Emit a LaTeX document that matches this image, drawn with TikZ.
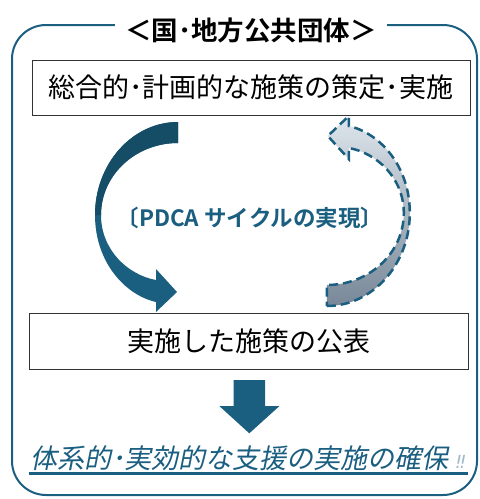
\documentclass[tikz,border=0pt]{standalone}
\usepackage{fontspec}
\setmainfont{Noto Sans CJK JP}
\newfontfamily\jpbold{Noto Sans CJK JP Bold}
\newfontfamily\jpit[FakeSlant=0.2]{Noto Sans CJK JP}
\newfontfamily\dejavu[FakeSlant=0.2]{DejaVu Sans}
\definecolor{pblue}{RGB}{26,94,128}
\definecolor{pdark}{RGB}{21,76,102}
\definecolor{plight}{RGB}{222,229,236}
\definecolor{pgrey}{RGB}{120,136,152}
\definecolor{pfaint}{RGB}{160,185,200}
\tikzset{
  framebox/.style={draw=pblue, line width=2pt, rounded corners=34pt},
  textbox/.style={draw=black!80, line width=1pt, fill=white, inner sep=0pt},
  bigarrow/.style={fill=pblue, draw=none},
}
\begin{document}
\begin{tikzpicture}[x=1pt,y=-1pt]
\useasboundingbox (0,0) rectangle (480,499);
% outer frame
\draw[framebox] (12,25) rectangle (477,495);
\node[fill=white, inner xsep=10pt, inner ysep=2pt, font=\jpbold\fontsize{26.5}{26.5}\selectfont] (title) at (251,30) {＜国･地方公共団体＞};
% boxes
\node[textbox, minimum width=438pt, minimum height=55pt, font=\fontsize{27}{27}\selectfont] (plan) at (251,87.5) {総合的･計画的な施策の策定･実施};
\node[textbox, minimum width=439pt, minimum height=56pt, font=\fontsize{27}{27}\selectfont] (pub) at (249,341) {実施した施策の公表};
% left curved arrow
\fill[pblue] (178,122) .. controls (132,122) and (95,164) .. (95,215)
  .. controls (95,262) and (125,295) .. (156,302)
  -- (156,312) -- (177,292) -- (156,269) -- (156,280)
  .. controls (128,275) and (101,250) .. (101,215)
  .. controls (101,175) and (135.5,143) .. (178,143) -- cycle;
\fill[pdark] (178,122) .. controls (132,122) and (95,164) .. (95,215)
  -- (101,215) .. controls (101,175) and (135.5,143) .. (178,143) -- cycle;
% right curved arrow (dashed)
\draw[draw=pblue, line width=2.5pt, dash pattern=on 9pt off 5pt, top color=plight, bottom color=pgrey]
  (326.8,306) .. controls (372.8,306) and (409.8,264) .. (409.8,213)
  .. controls (409.8,166) and (379.8,133) .. (348.8,126)
  -- (348.8,116) -- (327.8,136) -- (348.8,159) -- (348.8,148)
  .. controls (376.8,153) and (403.8,178) .. (403.8,213)
  .. controls (403.8,253) and (369.3,285) .. (326.8,285) -- cycle;
% center label
\node[text=pblue, font=\jpbold\fontsize{22.5}{22.5}\selectfont] (pdca) at (250,218) {〔PDCA サイクルの実現〕};
% down arrow
\fill[bigarrow] (233.5,380) -- (265,380) -- (265,406) -- (279.5,406) -- (249.3,433.3) -- (219.3,406) -- (233.5,406) -- cycle;
% bottom text
\node[text=pblue, inner sep=0pt, anchor=base west, font=\jpit\fontsize{27}{27}\selectfont] (goal) at (30,468) {体系的･実効的な支援の実施の確保};
\node[text=pfaint, inner sep=0pt, anchor=base west, font=\dejavu\fontsize{18}{18}\selectfont] (excl) at ([xshift=6pt]goal.base east) {‼};
\draw[pblue, line width=3pt] (28.5,473) -- (468,473);
\end{tikzpicture}
\end{document}
